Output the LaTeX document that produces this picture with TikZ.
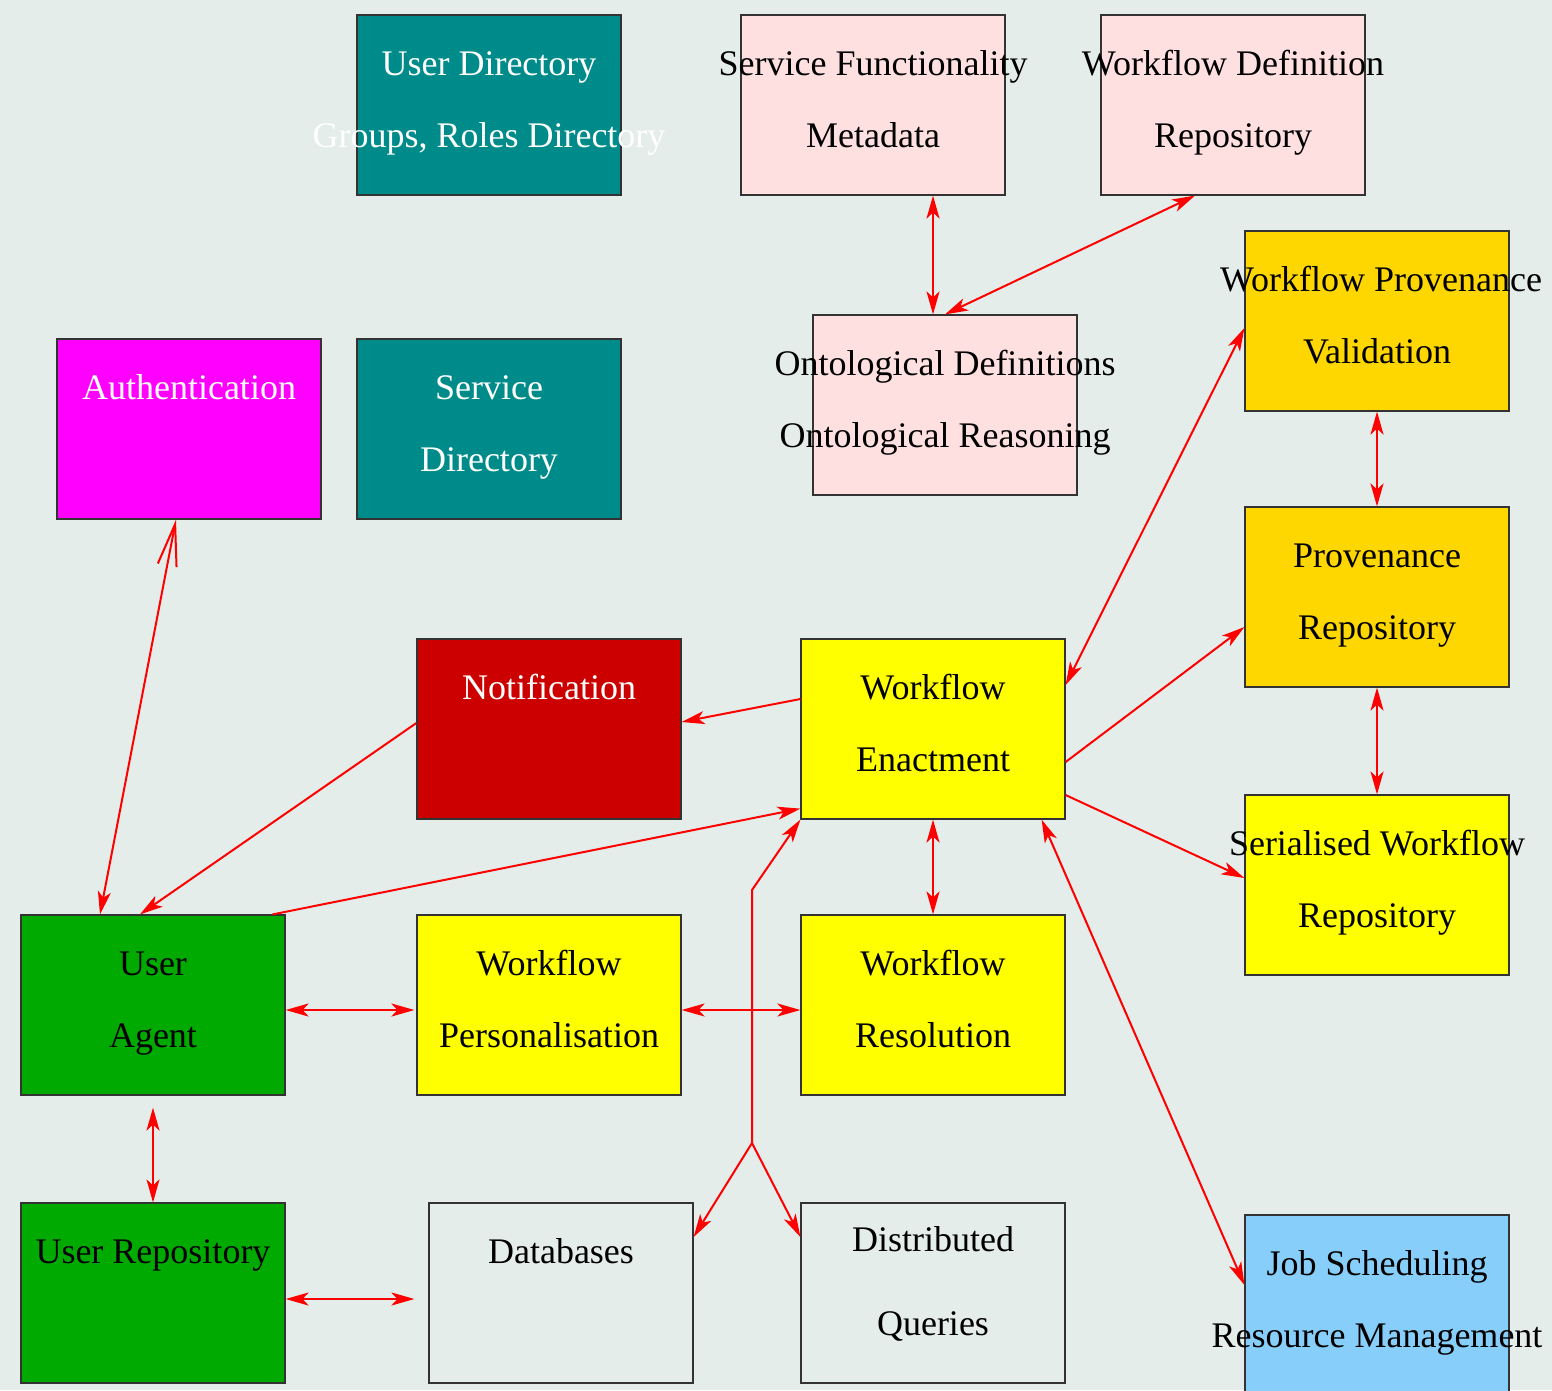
\documentclass[tikz,border=0pt]{standalone}
\usepackage{fontspec}
\setmainfont{Liberation Serif}
\usetikzlibrary{arrows.meta}
\definecolor{bgc}{HTML}{E4EDE9}
\definecolor{tealc}{HTML}{008B8B}
\definecolor{pinkc}{HTML}{FFE0E1}
\definecolor{magc}{HTML}{FF00FF}
\definecolor{goldc}{HTML}{FFD700}
\definecolor{yelc}{HTML}{FFFF00}
\definecolor{redc}{HTML}{CD0000}
\definecolor{greenc}{HTML}{00AA00}
\definecolor{bluec}{HTML}{87CEFA}
\definecolor{edgec}{HTML}{FF0000}
\definecolor{borderc}{HTML}{333333}
\begin{document}
\begin{tikzpicture}[x=1pt,y=-1pt,
  box/.style={draw=borderc, line width=1.2pt, rectangle, minimum width=264pt, minimum height=180pt, inner sep=0pt},
  lbl/.style={anchor=base, inner sep=0pt, font=\fontsize{36}{43}\selectfont},
  wlbl/.style={lbl, text=white},
  conn/.style={draw=edgec, line width=2pt},
  tip/.tip={Stealth[length=23pt, width=13pt, inset=6pt]},
  both/.style={conn, {tip}-{tip}},
  fwd/.style={conn, -{tip}},
]
\fill[bgc] (0,0) rectangle (1552,1390);
\useasboundingbox (0,0) rectangle (1552,1390);

% boxes
\node[box, fill=tealc] (ud) at (489,105) {};
\node[box, fill=pinkc] (sfm) at (873,105) {};
\node[box, fill=pinkc] (wdr) at (1233,105) {};
\node[box, fill=goldc] (wpv) at (1377,321) {};
\node[box, fill=pinkc] (ont) at (945,405) {};
\node[box, fill=magc] (auth) at (189,429) {};
\node[box, fill=tealc] (sd) at (489,429) {};
\node[box, fill=goldc] (pr) at (1377,597) {};
\node[box, fill=redc] (notif) at (549,729) {};
\node[box, fill=yelc] (we) at (933,729) {};
\node[box, fill=yelc] (swr) at (1377,885) {};
\node[box, fill=greenc] (ua) at (153,1005) {};
\node[box, fill=yelc] (wp) at (549,1005) {};
\node[box, fill=yelc] (wr) at (933,1005) {};
\node[box, fill=greenc] (ur) at (153,1293) {};
\node[box, fill=bgc] (db) at (561,1293) {};
\node[box, fill=bgc] (dq) at (933,1293) {};
\node[box, fill=bluec] (js) at (1377,1305) {};

% labels
\node[wlbl] (ud1) at (489,75) {User Directory};
\node[wlbl] (ud2) at (489,147) {Groups, Roles Directory};
\node[lbl] (sfm1) at (873,75) {Service Functionality};
\node[lbl] (sfm2) at (873,147) {Metadata};
\node[lbl] (wdr1) at (1233,75) {Workflow Definition};
\node[lbl] (wdr2) at (1233,147) {Repository};
\node[lbl] (wpv1) at (1381,291) {Workflow Provenance};
\node[lbl] (wpv2) at (1377,363) {Validation};
\node[lbl] (ont1) at (945,375) {Ontological Definitions};
\node[lbl] (ont2) at (945,447) {Ontological Reasoning};
\node[wlbl] (auth1) at (189,399) {Authentication};
\node[wlbl] (sd1) at (489,399) {Service};
\node[wlbl] (sd2) at (489,471) {Directory};
\node[lbl] (pr1) at (1377,567) {Provenance};
\node[lbl] (pr2) at (1377,639) {Repository};
\node[wlbl] (notif1) at (549,699) {Notification};
\node[lbl] (we1) at (933,699) {Workflow};
\node[lbl] (we2) at (933,771) {Enactment};
\node[lbl] (swr1) at (1377,855) {Serialised Workflow};
\node[lbl] (swr2) at (1377,927) {Repository};
\node[lbl] (ua1) at (153,975) {User};
\node[lbl] (ua2) at (153,1047) {Agent};
\node[lbl] (wp1) at (549,975) {Workflow};
\node[lbl] (wp2) at (549,1047) {Personalisation};
\node[lbl] (wr1) at (933,975) {Workflow};
\node[lbl] (wr2) at (933,1047) {Resolution};
\node[lbl] (ur1) at (153,1263) {User Repository};
\node[lbl] (db1) at (561,1263) {Databases};
\node[lbl] (dq1) at (933,1251) {Distributed};
\node[lbl] (dq2) at (933,1335) {Queries};
\node[lbl] (js1) at (1377,1275) {Job Scheduling};
\node[lbl] (js2) at (1377,1347) {Resource Management};

% connectors
\draw[both] ([xshift=60pt]sfm.south) -- ([xshift=-12pt]ont.north);
\draw[both] ([xshift=-38pt]wdr.south) -- (ont.north);
\draw[both] ([yshift=-7pt]wpv.west) -- ([yshift=44pt]we.east);
\draw[both] (wpv.south) -- (pr.north);
\draw[both] (pr.south) -- (swr.north);
\draw[fwd] ([yshift=-33pt]we.east) -- ([yshift=-30pt]pr.west);
\draw[fwd] ([yshift=-66pt]we.east) -- ([yshift=7pt]swr.west);
\draw[both] ([xshift=-24pt]we.south east) -- ([yshift=20pt]js.west);
\draw[both] (we.south) -- (wr.north);
\draw[fwd] ([yshift=30pt]we.west) -- ([yshift=7pt]notif.east);
\draw[fwd] ([yshift=6pt]notif.west) -- ([xshift=-13pt]ua.north);
\draw[fwd] ([xshift=-13pt]ua.north east) -- ([yshift=11pt]we.south west);
\draw[conn, {Straight Barb[length=42pt, width=19pt, line width=2pt]}-{tip}] ([xshift=-13pt]auth.south) -- ([xshift=-53pt]ua.north);
\draw[both] ([yshift=-5pt]ua.east) -- ([xshift=-2pt, yshift=-5pt]wp.west);
\draw[both] ([yshift=-5pt]wp.east) -- ([yshift=-5pt]wr.west);
\draw[both] ([yshift=-12pt]ua.south) -- (ur.north);
\draw[both] ([yshift=-6pt]ur.east) -- ([xshift=-14pt, yshift=-6pt]db.west);

\coordinate (jn) at (752,1143);
\coordinate (bend) at (752,890);
\draw[fwd] (jn) -- (bend) -- (we.south west);
\draw[fwd] (jn) -- ([yshift=56pt]db.east);
\draw[fwd] (jn) -- ([yshift=56pt]dq.west);
\end{tikzpicture}
\end{document}
